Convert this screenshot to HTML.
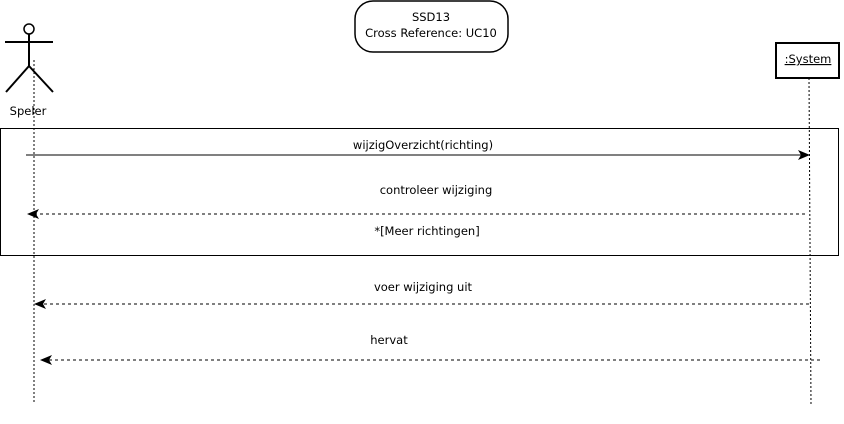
<!DOCTYPE html>
<html><head><style>body{margin:0;background:#fff}</style></head><body>
<svg width="844" height="419" xmlns="http://www.w3.org/2000/svg" font-family="DejaVu Sans, sans-serif" font-size="11.5">
<rect width="844" height="419" fill="#fff"/>
<rect x="355" y="1" width="153" height="51" rx="18" fill="#fff" stroke="#000" stroke-width="1.5"/>
<text x="431" y="21" text-anchor="middle">SSD13</text>
<text x="431" y="37" text-anchor="middle">Cross Reference: UC10</text>
<circle cx="29" cy="29" r="5" fill="none" stroke="#000" stroke-width="1.5"/>
<g stroke="#000" stroke-width="2" fill="none">
<line x1="5" y1="42" x2="53" y2="42"/><line x1="29" y1="34" x2="29" y2="66"/>
<line x1="29" y1="66" x2="6" y2="92"/><line x1="29" y1="66" x2="53" y2="92"/></g>
<text x="28" y="115" text-anchor="middle">Speler</text>
<rect x="776" y="43" width="63" height="35" fill="#fff" stroke="#000" stroke-width="2"/>
<text x="808" y="63" text-anchor="middle" text-decoration="underline">:System</text>
<g stroke="#000" stroke-dasharray="2,2"><line x1="34" y1="60" x2="34" y2="402"/><line x1="809" y1="78" x2="811" y2="405"/></g>
<rect x="0.5" y="128.5" width="838" height="127" fill="none" stroke="#000"/>
<g stroke="#000" fill="none">
<line x1="26" y1="155" x2="805" y2="155"/>
<line x1="805" y1="214" x2="32" y2="214" stroke-dasharray="3,3"/>
<line x1="809" y1="304" x2="39" y2="304" stroke-dasharray="3,3"/>
<line x1="820" y1="360" x2="45" y2="360" stroke-dasharray="3,3"/></g>
<polygon points="810,155 798,150 801,155 798,160"/>
<polygon points="27,214 39,209 36,214 39,219"/>
<polygon points="34,304 46,299 43,304 46,309"/>
<polygon points="40,360 52,355 49,360 52,365"/>
<text x="423" y="149" text-anchor="middle">wijzigOverzicht(richting)</text>
<text x="436" y="194" text-anchor="middle">controleer wijziging</text>
<text x="427" y="235" text-anchor="middle">*[Meer richtingen]</text>
<text x="423" y="291" text-anchor="middle">voer wijziging uit</text>
<text x="389" y="344" text-anchor="middle">hervat</text>
</svg>
</body></html>
